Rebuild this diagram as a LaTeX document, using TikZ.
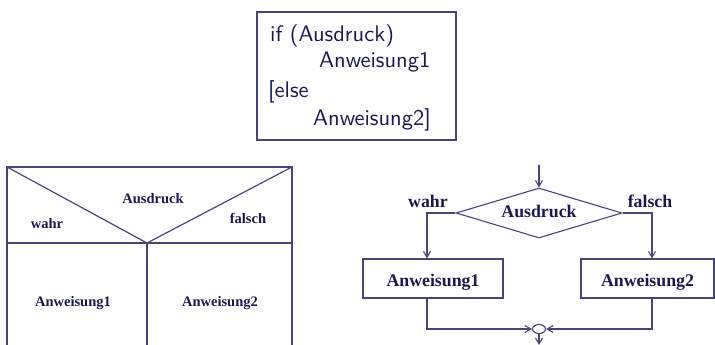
\documentclass[tikz,border=0pt]{standalone}
\usepackage{fontspec}
\setmainfont{Liberation Serif}
\newfontfamily\codefont[Extension=.otf]{lmsans10-regular}
\usetikzlibrary{shapes.geometric,arrows.meta}
\definecolor{txt}{RGB}{25,25,80}
\definecolor{ln}{RGB}{70,70,120}
\begin{document}
\begin{tikzpicture}[x=1pt,y=-1pt,
  every node/.style={text=txt},
  codetxt/.style={font=\fontsize{22.5}{26}\codefont, anchor=base west, inner sep=0},
  lefttxt/.style={font=\fontsize{14.5}{17}\selectfont\bfseries, anchor=base, inner sep=0},
  righttxt/.style={font=\fontsize{17.8}{20}\selectfont\bfseries},
  ruleline/.style={draw=ln, line width=1.2pt},
  flowline/.style={draw=ln, line width=1.1pt},
  arr/.style={flowline, -{Straight Barb[length=6pt,width=7pt]}},
  stepbox/.style={draw=ln, line width=1.1pt, rectangle, inner sep=0, minimum height=39pt, text height=15pt, text depth=0pt, righttxt}
]
\useasboundingbox (0,0) rectangle (715,345);

% ---- top: code box ----
\node[draw=ln, line width=1.4pt, minimum width=199pt, minimum height=128pt, inner sep=0] (code) at (356.5,76) {};
\node[codetxt] (l1) at (270,42) {if (Ausdruck)};
\node[codetxt] (l2) at (319,68) {Anweisung1};
\node[codetxt] (l3) at (268,97) {[else};
\node[codetxt] (l4) at (313,125) {Anweisung2]};

% ---- left: Nassi-Shneiderman ----
\coordinate (tl) at (7,167);
\coordinate (tr) at (292,167);
\coordinate (ml) at (7,243);
\coordinate (mr) at (292,243);
\coordinate (v) at (147,243);
\coordinate (bl) at (7,345);
\coordinate (br) at (292,345);
\coordinate (bv) at (147,345);
\draw[ruleline] (bl) -- (tl) -- (tr) -- (br);
\draw[ruleline] (ml) -- (mr);
\draw[ruleline] (tl) -- (v) -- (tr);
\draw[ruleline] (v) -- (bv);
\node[lefttxt] (nsA) at (153,203) {Ausdruck};
\node[lefttxt] (nsW) at (47,228) {wahr};
\node[lefttxt] (nsF) at (248,223) {falsch};
\node[lefttxt] (ns1) at (73,306) {Anweisung1};
\node[lefttxt] (ns2) at (220,306) {Anweisung2};

% ---- right: flowchart ----
\node[diamond, aspect=3.32, draw=ln, line width=1.1pt, inner sep=0, minimum width=166pt, minimum height=50pt, text height=9pt, text depth=0pt, righttxt] (d) at (539,213) {Ausdruck};
\node[stepbox, minimum width=140pt] (a1) at (433,278.5) {Anweisung1};
\node[stepbox, minimum width=133pt] (a2) at (647.5,278.5) {Anweisung2};
\node[ellipse, draw=ln, line width=1.1pt, minimum width=13pt, minimum height=9pt, inner sep=0] (m) at (539,329) {};
\coordinate (in) at (539,165);
\coordinate (out) at (539,345);
\draw[arr] (in) -- (d.north);
\draw[arr] (d.west) -| ([xshift=-6pt]a1.north);
\draw[arr] (d.east) -| ([xshift=4.5pt]a2.north);
\draw[arr] ([xshift=-6pt]a1.south) |- (m.west);
\draw[arr] ([xshift=4.5pt]a2.south) |- (m.east);
\draw[arr] (m.south) -- (out);
\node[righttxt, anchor=base, inner sep=0] (tw) at (428,207) {wahr};
\node[righttxt, anchor=base, inner sep=0] (tf) at (650,207) {falsch};
\end{tikzpicture}
\end{document}
